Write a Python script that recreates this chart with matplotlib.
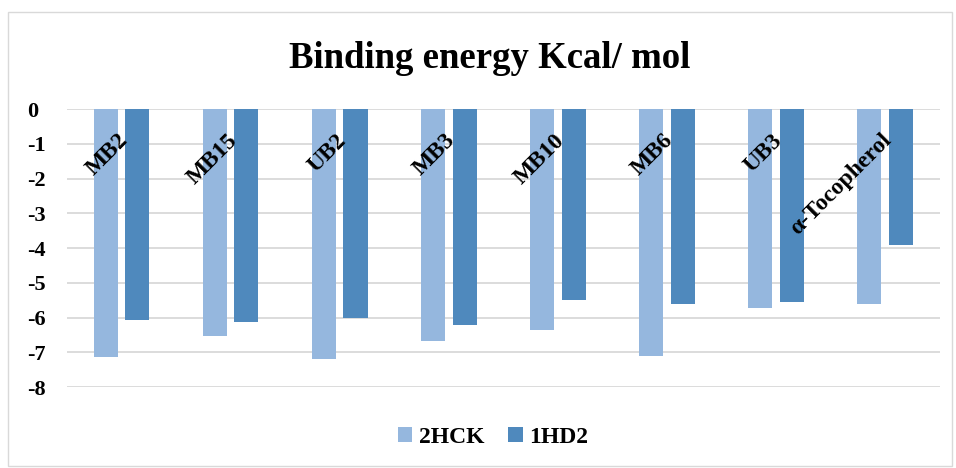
import matplotlib
matplotlib.use("Agg")
import matplotlib.pyplot as plt
import numpy as np
from matplotlib.patches import Rectangle

compounds = ["MB2", "MB15", "UB2", "MB3", "MB10", "MB6", "UB3", "α-Tocopherol"]
e_2hck = [-7.14, -6.54, -7.20, -6.68, -6.37, -7.12, -5.73, -5.60]
e_1hd2 = [-6.06, -6.13, -6.00, -6.22, -5.50, -5.60, -5.55, -3.91]
yticks = [0, -1, -2, -3, -4, -5, -6, -7, -8]

plt.rcParams["font.family"] = ["Liberation Serif", "DejaVu Serif"]
plt.rcParams["font.weight"] = "bold"

fig = plt.figure(figsize=(9.56, 4.68), dpi=100)
ax = fig.add_axes([0.070, 0.173, 0.913, 0.594])

x = np.arange(len(compounds))
w = 0.22
ax.bar(x - 0.145, e_2hck, w, color="#95b7de", label="2HCK", zorder=3)
ax.bar(x + 0.145, e_1hd2, w, color="#4f89bd", label="1HD2", zorder=3)

ax.set_xlim(-0.5, len(compounds) - 0.5)
ax.set_ylim(-8, 0)
ax.set_yticks(yticks)
ax.set_yticklabels([str(t) for t in yticks], fontsize=16, fontweight="bold")
ax.tick_params(axis="y", length=0, pad=29)
for lab in ax.get_yticklabels():
    lab.set_horizontalalignment("left")
ax.tick_params(axis="x", length=0, labelbottom=False)
ax.yaxis.grid(True, color="#d9d9d9", lw=1.3, zorder=0)
for s in ax.spines.values():
    s.set_visible(False)

# category labels sit just under the zero line, rotated
for i, name in enumerate(compounds):
    ax.annotate(name, (i, 0), xytext=(-3, -15), textcoords="offset points",
                rotation=45, rotation_mode="anchor", ha="right", va="top",
                fontsize=17, fontweight="bold", zorder=5)

fig.text(0.512, 0.874, "Binding energy Kcal/ mol", ha="center", va="center",
         fontsize=26.5, fontweight="bold")

fig.legend(loc="center", bbox_to_anchor=(0.516, 0.066), ncol=2, frameon=False,
           prop={"size": 17, "weight": "bold"}, handlelength=0.6, handleheight=0.6,
           handletextpad=0.3, columnspacing=1.0)

fig.patches.append(Rectangle((8 / 956, 2 / 468), 944 / 956, 454 / 468,
                             transform=fig.transFigure, fill=False,
                             edgecolor="#d9d9d9", lw=1))

fig.savefig("out.png", dpi=100)
